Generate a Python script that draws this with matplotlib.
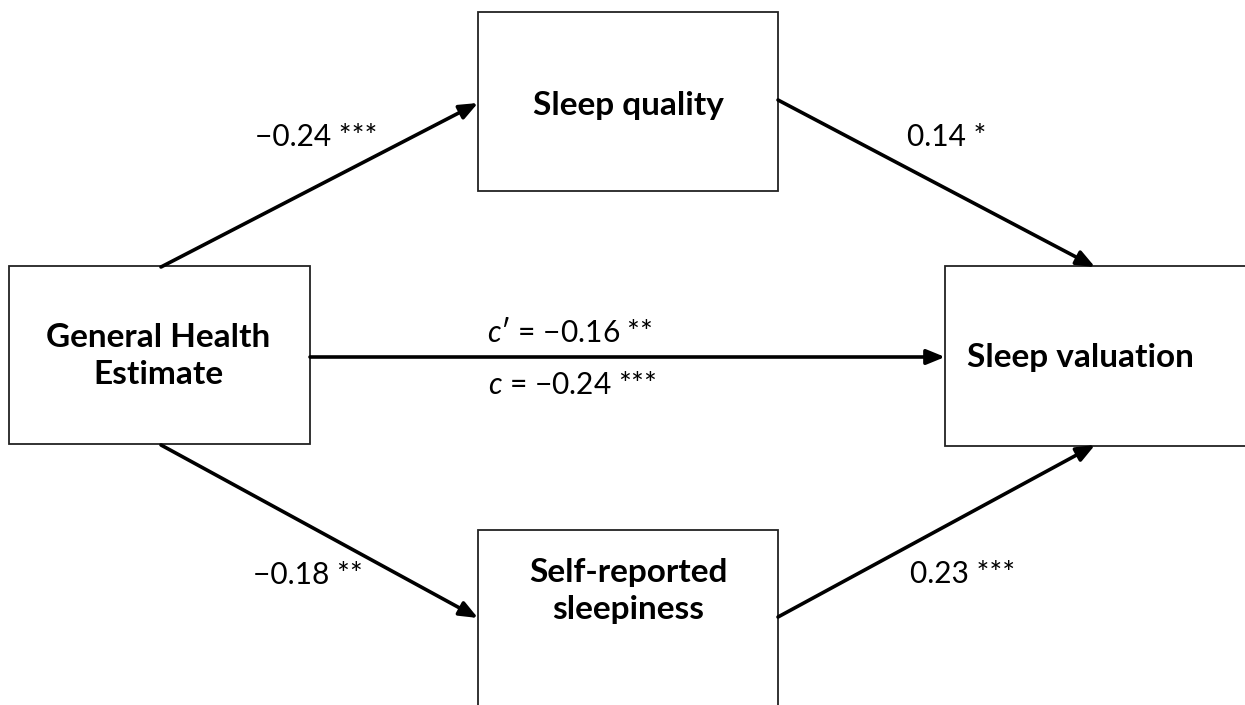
import matplotlib
matplotlib.use("Agg")
import matplotlib.pyplot as plt
from matplotlib.patches import Rectangle, FancyArrowPatch

# --- data ---
node_names = ["General Health\nEstimate", "Sleep quality", "Sleep valuation", "Self-reported\nsleepiness"]
path_labels = ["\u22120.24 ***", "0.14 *", "\u22120.18 **", "0.23 ***"]
direct_label = "$c$\u2032 = \u22120.16 **"
total_label = "$c$ = \u22120.24 ***"

# --- layout (pixel space) ---
W, H = 1245, 705
fig = plt.figure(figsize=(W / 100, H / 100), dpi=100)
ax = fig.add_axes([0, 0, 1, 1])
ax.set_xlim(0, W)
ax.set_ylim(H, 0)
ax.axis("off")

plt.rcParams["mathtext.fontset"] = "custom"
plt.rcParams["mathtext.it"] = "Lato:italic"
plt.rcParams["mathtext.rm"] = "Lato"

boxes = [
    (9, 266, 301, 178),     # GHE
    (478, 12, 300, 179),    # Sleep quality
    (945, 266, 310, 180),   # Sleep valuation
    (478, 530, 300, 200),   # Self-reported sleepiness
]
text_pos = [(158, 356), (628, 105), (1080, 357), (628, 591)]

for (x, y, w, h), name, (tx, ty) in zip(boxes, node_names, text_pos):
    ax.add_patch(Rectangle((x, y), w, h, facecolor="white", edgecolor="#222222", lw=1.3, zorder=1))
    ax.text(tx, ty, name, ha="center", va="center", fontsize=24, fontweight="bold",
            family="Lato", linespacing=1.3, color="black", zorder=3)

arrows = [
    ((161, 267), (478, 103)),
    ((778, 100), (1095, 267)),
    ((161, 445), (478, 618)),
    ((778, 617), (1095, 445)),
    ((310, 357), (945, 357)),
]
for (x0, y0), (x1, y1) in arrows:
    ax.add_patch(FancyArrowPatch((x0, y0), (x1, y1), arrowstyle="-|>,head_length=11,head_width=4.5",
                                 mutation_scale=1, lw=2.6, color="black", shrinkA=0, shrinkB=0, zorder=2))

label_pos = [(316, 137), (947, 137), (308, 575), (963, 574)]
for lab, (lx, ly) in zip(path_labels, label_pos):
    ax.text(lx, ly, lab, ha="center", va="center", fontsize=21.5, family="Lato", color="black")

ax.text(570, 333, direct_label, ha="center", va="center", fontsize=21.5, family="Lato", color="black")
ax.text(572, 385, total_label, ha="center", va="center", fontsize=21.5, family="Lato", color="black")

fig.savefig("out.png", dpi=100, facecolor="white")
